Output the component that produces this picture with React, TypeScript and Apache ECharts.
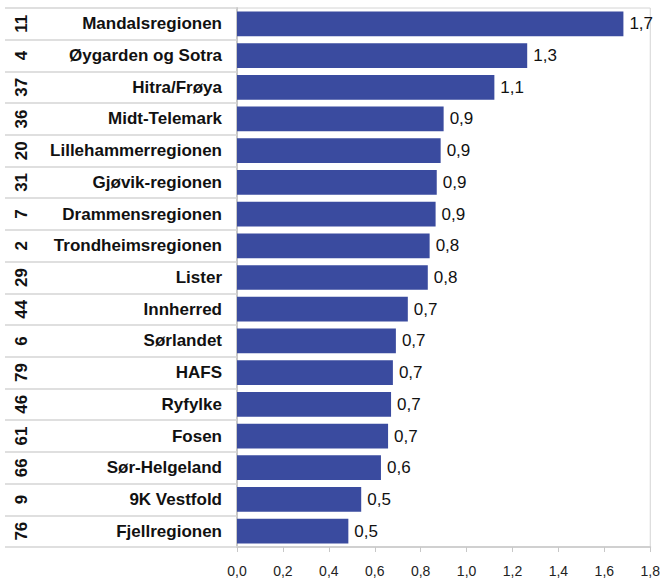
import React, { useEffect, useRef } from "react";
import * as echarts from "echarts";

const regions = [
  "Mandalsregionen",
  "Øygarden og Sotra",
  "Hitra/Frøya",
  "Midt-Telemark",
  "Lillehammerregionen",
  "Gjøvik-regionen",
  "Drammensregionen",
  "Trondheimsregionen",
  "Lister",
  "Innherred",
  "Sørlandet",
  "HAFS",
  "Ryfylke",
  "Fosen",
  "Sør-Helgeland",
  "9K Vestfold",
  "Fjellregionen",
];

const ranks = ["11", "4", "37", "36", "20", "31", "7", "2", "29", "44", "6", "79", "46", "61", "66", "9", "76"];

const values = [1.683, 1.264, 1.121, 0.9, 0.887, 0.87, 0.865, 0.839, 0.831, 0.744, 0.692, 0.679, 0.671, 0.658, 0.627, 0.541, 0.485];

const valueLabels = ["1,7", "1,3", "1,1", "0,9", "0,9", "0,9", "0,9", "0,8", "0,8", "0,7", "0,7", "0,7", "0,7", "0,7", "0,6", "0,5", "0,5"];

const xMin = 0;
const xMax = 1.8;
const xStep = 0.2;

export default function App() {
  const ref = useRef<HTMLDivElement>(null);
  useEffect(() => {
    if (!ref.current) return;
    const chart = echarts.init(ref.current, null, { renderer: "svg" });
    const font = "'Liberation Sans', Arial, sans-serif";
    chart.setOption({
      animation: false,
      textStyle: { fontFamily: font },
      grid: {
        left: 237,
        right: 10,
        top: 8,
        bottom: 30,
        show: true,
        borderColor: "#D4D4D4",
        borderWidth: 1,
        backgroundColor: "transparent",
      },
      xAxis: {
        type: "value",
        min: xMin,
        max: xMax,
        interval: xStep,
        splitLine: { show: false },
        axisLine: { show: true, lineStyle: { color: "#D0D0D0", width: 2 } },
        axisTick: { show: true, length: 5, lineStyle: { color: "#C8C8C8", width: 1 } },
        axisLabel: {
          color: "#222",
          fontSize: 14,
          margin: 17,
          fontFamily: font,
          formatter: (v: number) => v.toFixed(1).replace(".", ","),
        },
      },
      yAxis: [
        {
          type: "category",
          data: regions,
          inverse: true,
          axisLine: { show: true, lineStyle: { color: "#C8C8C8", width: 2 } },
          axisTick: { show: true, length: 232, lineStyle: { color: "#D4D4D4", width: 1.5 } },
          axisLabel: {
            color: "#111",
            fontWeight: "bold",
            fontSize: 17,
            margin: 15,
            fontFamily: font,
          },
        },
        {
          type: "category",
          data: ranks,
          inverse: true,
          position: "left",
          axisLine: { show: false },
          axisTick: { show: false },
          axisLabel: {
            rotate: 90,
            align: "center",
            verticalAlign: "middle",
            margin: 216,
            color: "#111",
            fontWeight: "bold",
            fontSize: 17,
            fontFamily: font,
          },
        },
      ],
      series: [
        {
          type: "bar",
          data: values,
          yAxisIndex: 0,
          barCategoryGap: "22%",
          itemStyle: { color: "#3A4B9F" },
          label: {
            show: true,
            position: "right",
            distance: 6,
            color: "#111",
            fontSize: 17,
            fontFamily: font,
            formatter: (p: any) => valueLabels[p.dataIndex],
          },
        },
      ],
    });
    return () => chart.dispose();
  }, []);
  return (
    <div
      ref={ref}
      style={{ position: "fixed", left: 0, top: 0, width: 663, height: 578, background: "#fff" }}
    />
  );
}
